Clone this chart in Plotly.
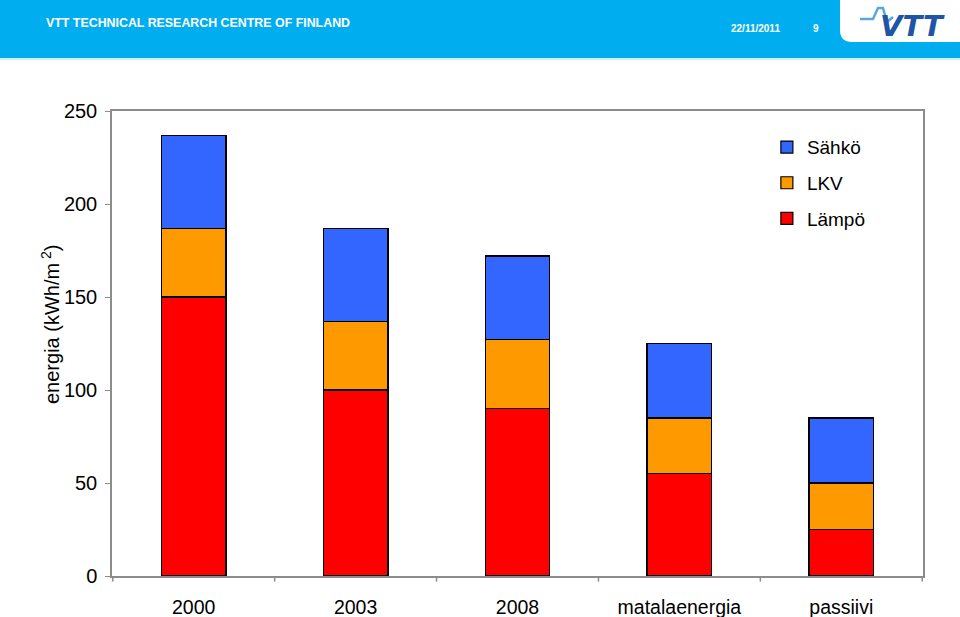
import plotly.graph_objects as go

categories = ["2000", "2003", "2008", "matalaenergia", "passiivi"]
lampo = [150, 100, 90, 55, 25]
lkv = [37, 37, 37, 30, 25]
sahko = [50, 50, 45, 40, 35]
y_ticks = [0, 50, 100, 150, 200, 250]

FONT = "Liberation Sans, Arial, sans-serif"

fig = go.Figure()
for name, vals, col, rank in [("Lämpö", lampo, "#FF0000", 3), ("LKV", lkv, "#FF9900", 2),
                              ("Sähkö", sahko, "#3366FF", 1)]:
    fig.add_trace(go.Bar(x=categories, y=vals, name=name, legendgroup=name, legendrank=rank,
                         marker=dict(color=col, line=dict(color="black", width=1.2))))

fig.update_layout(
    width=960, height=617,
    barmode="stack", bargap=0.6,
    paper_bgcolor="white", plot_bgcolor="white",
    margin=dict(l=112, r=37, t=111, b=41),
    font=dict(family=FONT, size=18, color="black"),
    showlegend=True,
    legend=dict(x=0.8075, y=0.963, xanchor="left", yanchor="top",
                traceorder="grouped", tracegroupgap=8,
                font=dict(size=19), bgcolor="rgba(0,0,0,0)"),
    xaxis=dict(showline=True, linecolor="#8c8c8c", linewidth=1.5, mirror=True, automargin=False,
               ticks="", tickfont=dict(size=19.5), ticklabelstandoff=13),
    yaxis=dict(range=[0, 250], tickvals=y_ticks, showline=True, linecolor="#8c8c8c", automargin=False,
               linewidth=1.5, mirror=True, ticks="outside", ticklen=5, tickcolor="#8c8c8c",
               showgrid=False, zeroline=False, tickfont=dict(size=20), ticklabelstandoff=4),
)

# category boundary ticks on x-axis
for i in range(len(categories) + 1):
    fig.add_shape(type="line", xref="x", yref="paper", x0=i - 0.5, x1=i - 0.5, y0=0, y1=-0.012,
                  line=dict(color="#8c8c8c", width=1.5))

def px(xp):
    return (xp - 112) / 811

def py(yp):
    return 1 + (111 - yp) / 465

# y-axis title
fig.add_annotation(text="energia (kWh/m<sup> 2</sup>)", xref="paper", yref="paper",
                   x=px(50), y=py(324), xanchor="center", yanchor="middle",
                   textangle=-90, showarrow=False, font=dict(size=20, family=FONT))

# header band
fig.add_shape(type="rect", xref="paper", yref="paper", x0=px(-10), x1=px(970),
              y0=py(58), y1=py(-10),
              fillcolor="#00AEEF", line=dict(width=0), layer="below")
fig.add_shape(type="rect", xref="paper", yref="paper", x0=px(-10), x1=px(970),
              y0=py(60), y1=py(58),
              fillcolor="#cdeefb", line=dict(width=0), layer="below")
# logo white area with rounded bottom-left corner
x0 = px(840)
x1 = px(965)
ytop = py(-5)
ybot = py(42)
r_x = 12 / 811
r_y = 12 / 465
path = (f"M {x0},{ytop} L {x0},{ybot + r_y} Q {x0},{ybot} {x0 + r_x},{ybot} "
        f"L {x1},{ybot} L {x1},{ytop} Z")
fig.add_shape(type="path", xref="paper", yref="paper", path=path,
              fillcolor="white", line=dict(width=0))
# wave line of logo
wave = (f"M {px(860)},{py(19)} L {px(873)},{py(19)} L {px(878)},{py(8)} "
        f"L {px(883)},{py(8)} L {px(887)},{py(22)} L {px(893)},{py(17)}")
fig.add_shape(type="path", xref="paper", yref="paper", path=wave,
              line=dict(color="#5aa7e0", width=2.5))
fig.add_annotation(text="<b><i>VTT</i></b>", xref="paper", yref="paper",
                   x=px(912), y=py(26), xanchor="center", yanchor="middle", showarrow=False,
                   font=dict(size=29, color="#1f55a5", family="DejaVu Sans"))

fig.add_annotation(text="<b>VTT TECHNICAL RESEARCH CENTRE OF FINLAND</b>", xref="paper", yref="paper",
                   x=px(44), y=py(23), xanchor="left", yanchor="middle", showarrow=False,
                   font=dict(size=12.4, color="white", family=FONT))
fig.add_annotation(text="<b>22/11/2011</b>", xref="paper", yref="paper",
                   x=px(729), y=py(28), xanchor="left", yanchor="middle", showarrow=False,
                   font=dict(size=10, color="white", family=FONT))
fig.add_annotation(text="<b>9</b>", xref="paper", yref="paper",
                   x=px(811), y=py(28), xanchor="left", yanchor="middle", showarrow=False,
                   font=dict(size=10, color="white", family=FONT))

fig.write_html("out.html", config={"displayModeBar": False},
               post_script="document.body.style.margin='0';")
